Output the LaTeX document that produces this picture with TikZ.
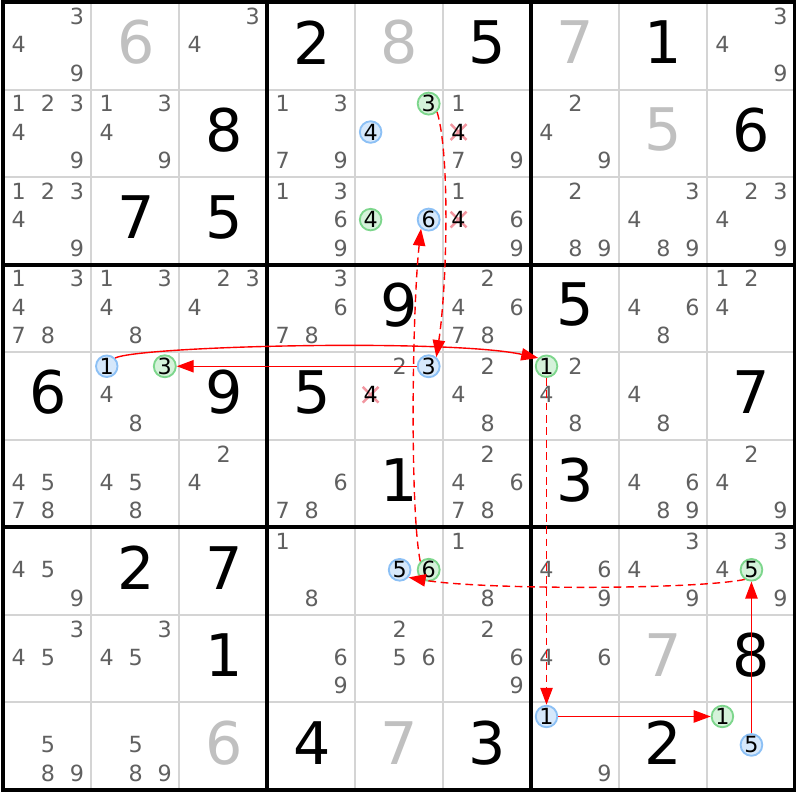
\documentclass[tikz,border=0pt]{standalone}
\usepackage{fontspec}
\setmainfont{DejaVu Sans}
\usetikzlibrary{arrows.meta}

\definecolor{candgray}{RGB}{96,96,96}
\definecolor{solvgray}{RGB}{192,192,192}
\definecolor{gridgray}{RGB}{212,212,212}
\definecolor{bluefill}{RGB}{214,232,251}
\definecolor{blueline}{RGB}{140,192,245}
\definecolor{greenfill}{RGB}{213,242,218}
\definecolor{greenline}{RGB}{125,214,140}
\definecolor{crosspink}{RGB}{242,150,160}
\definecolor{linkred}{RGB}{255,0,0}

\tikzset{
  cand/.style={text=candgray, inner sep=0pt, font=\fontsize{7.2}{7.2}\selectfont},
  given/.style={inner sep=0pt, font=\fontsize{19}{19}\selectfont},
  solved/.style={given, text=solvgray},
  bluec/.style={circle, draw=blueline, fill=bluefill, line width=0.6pt, inner sep=0pt,
    minimum size=0.245cm, font=\fontsize{7.2}{7.2}\selectfont},
  greenc/.style={bluec, draw=greenline, fill=greenfill},
  strike/.style={crosspink, line width=0.8pt},
  link/.style={linkred, line width=0.45pt, -{Triangle[length=5.5pt,width=4pt]}},
  linkd/.style={link, dash pattern=on 2.5pt off 1.5pt},
}

\begin{document}
\begin{tikzpicture}[x=1cm, y=0.9955cm]

  \useasboundingbox (-0.034,-0.114) rectangle (9.057,9.023);

  \newcommand\candpos[3]{%
    \pgfmathsetmacro\cx{#1-1+0.18+0.33*mod(#3-1,3)}%
    \pgfmathsetmacro\cy{10-#2-0.16-0.325*int((#3-1)/3)}}
  \newcommand\cands[3]{\foreach \k in {#3}{\candpos{#1}{#2}{\k}\node[cand] (n#2#1\k) at (\cx,\cy) {\k};}}
  \newcommand\given[3]{\node[given] (g#2#1) at (#1-0.49,9.54-#2) {#3};}
  \newcommand\solved[3]{\node[solved] (g#2#1) at (#1-0.49,9.54-#2) {#3};}
  \newcommand\ringed[4]{\candpos{#1}{#2}{#3}\node[#4] (n#2#1#3) at (\cx,\cy) {#3};}
  \newcommand\struck[3]{\candpos{#1}{#2}{#3}%
    \draw[strike] (\cx-0.09,\cy-0.09) -- (\cx+0.09,\cy+0.09) (\cx-0.09,\cy+0.09) -- (\cx+0.09,\cy-0.09);
    \node[cand, text=black] (n#2#1#3) at (\cx,\cy) {#3};}

  %% grid
  \foreach \i in {1,2,4,5,7,8} {
    \draw[gridgray, line width=0.65pt] (\i,0) -- (\i,9);
    \draw[gridgray, line width=0.65pt] (0,\i) -- (9,\i);
  }
  \foreach \i in {3,6} {
    \draw[line width=1.2pt] (\i,0) -- (\i,9);
    \draw[line width=1.2pt] (0,\i) -- (9,\i);
  }
  \draw[line width=1.2pt] (0,0) rectangle (9,9);

  %% values (col, row, digit)
  \given{4}{1}{2} \given{6}{1}{5} \given{8}{1}{1}
  \given{3}{2}{8} \given{9}{2}{6}
  \given{2}{3}{7} \given{3}{3}{5}
  \given{5}{4}{9} \given{7}{4}{5}
  \given{1}{5}{6} \given{3}{5}{9} \given{4}{5}{5} \given{9}{5}{7}
  \given{5}{6}{1} \given{7}{6}{3}
  \given{2}{7}{2} \given{3}{7}{7}
  \given{3}{8}{1} \given{9}{8}{8}
  \given{4}{9}{4} \given{6}{9}{3} \given{8}{9}{2}
  \solved{2}{1}{6} \solved{5}{1}{8} \solved{7}{1}{7} \solved{8}{2}{5}
  \solved{8}{8}{7} \solved{3}{9}{6} \solved{5}{9}{7}

  %% candidates
  \cands{1}{1}{3,4,9} \cands{3}{1}{3,4} \cands{9}{1}{3,4,9}
  \cands{1}{2}{1,2,3,4,9} \cands{2}{2}{1,3,4,9} \cands{4}{2}{1,3,7,9}
  \cands{6}{2}{1,7,9} \cands{7}{2}{2,4,9}
  \cands{1}{3}{1,2,3,4,9} \cands{4}{3}{1,3,6,9} \cands{6}{3}{1,6,9}
  \cands{7}{3}{2,8,9} \cands{8}{3}{3,4,8,9} \cands{9}{3}{2,3,4,9}
  \cands{1}{4}{1,3,4,7,8} \cands{2}{4}{1,3,4,8} \cands{3}{4}{2,3,4} \cands{4}{4}{3,6,7,8}
  \cands{6}{4}{2,4,6,7,8} \cands{8}{4}{4,6,8} \cands{9}{4}{1,2,4}
  \cands{2}{5}{4,8} \cands{5}{5}{2} \cands{6}{5}{2,4,8} \cands{7}{5}{2,4,8} \cands{8}{5}{4,8}
  \cands{1}{6}{4,5,7,8} \cands{2}{6}{4,5,8} \cands{3}{6}{2,4} \cands{4}{6}{6,7,8}
  \cands{6}{6}{2,4,6,7,8} \cands{8}{6}{4,6,8,9} \cands{9}{6}{2,4,9}
  \cands{1}{7}{4,5,9} \cands{4}{7}{1,8} \cands{6}{7}{1,8} \cands{7}{7}{4,6,9}
  \cands{8}{7}{3,4,9} \cands{9}{7}{3,4,9}
  \cands{1}{8}{3,4,5} \cands{2}{8}{3,4,5} \cands{4}{8}{6,9} \cands{5}{8}{2,5,6}
  \cands{6}{8}{2,6,9} \cands{7}{8}{4,6}
  \cands{1}{9}{5,8,9} \cands{2}{9}{5,8,9} \cands{7}{9}{9}

  %% eliminations
  \struck{6}{2}{4} \struck{6}{3}{4} \struck{5}{5}{4}

  %% chain
  \ringed{5}{2}{3}{greenc} \ringed{5}{2}{4}{bluec}
  \ringed{5}{3}{4}{greenc} \ringed{5}{3}{6}{bluec}
  \ringed{2}{5}{1}{bluec} \ringed{2}{5}{3}{greenc}
  \ringed{5}{5}{3}{bluec} \ringed{7}{5}{1}{greenc}
  \ringed{5}{7}{5}{bluec} \ringed{5}{7}{6}{greenc} \ringed{9}{7}{5}{greenc}
  \ringed{7}{9}{1}{bluec} \ringed{9}{9}{1}{greenc} \ringed{9}{9}{5}{bluec}

  \draw[link] (n521.45) .. controls +(0.3,0.14) and +(-1.0,0.22) .. (n571.135); %% r5c2 -> r5c7
  \draw[link] (n553) -- (n523); %% r5c5 -> r5c2
  \draw[linkd] (n253.-45) .. controls +(0.15,-0.5) and +(0.12,0.8) .. (n553.50); %% r2c5 -> r5c5
  \draw[linkd] (n756.135) .. controls +(-0.12,0.6) and +(-0.1,-0.9) .. (n356.-130); %% r7c5 -> r3c5
  \draw[linkd] (n795.235) .. controls +(-0.6,-0.12) and +(0.8,-0.14) .. (n755.-40); %% r7c9 -> r7c5
  \draw[linkd] (n571) -- (n971); %% r5c7 -> r9c7
  \draw[link] (n971) -- (n991); %% r9c7 -> r9c9
  \draw[link] (n995) -- (n795); %% r9c9 -> r7c9
\end{tikzpicture}
\end{document}
